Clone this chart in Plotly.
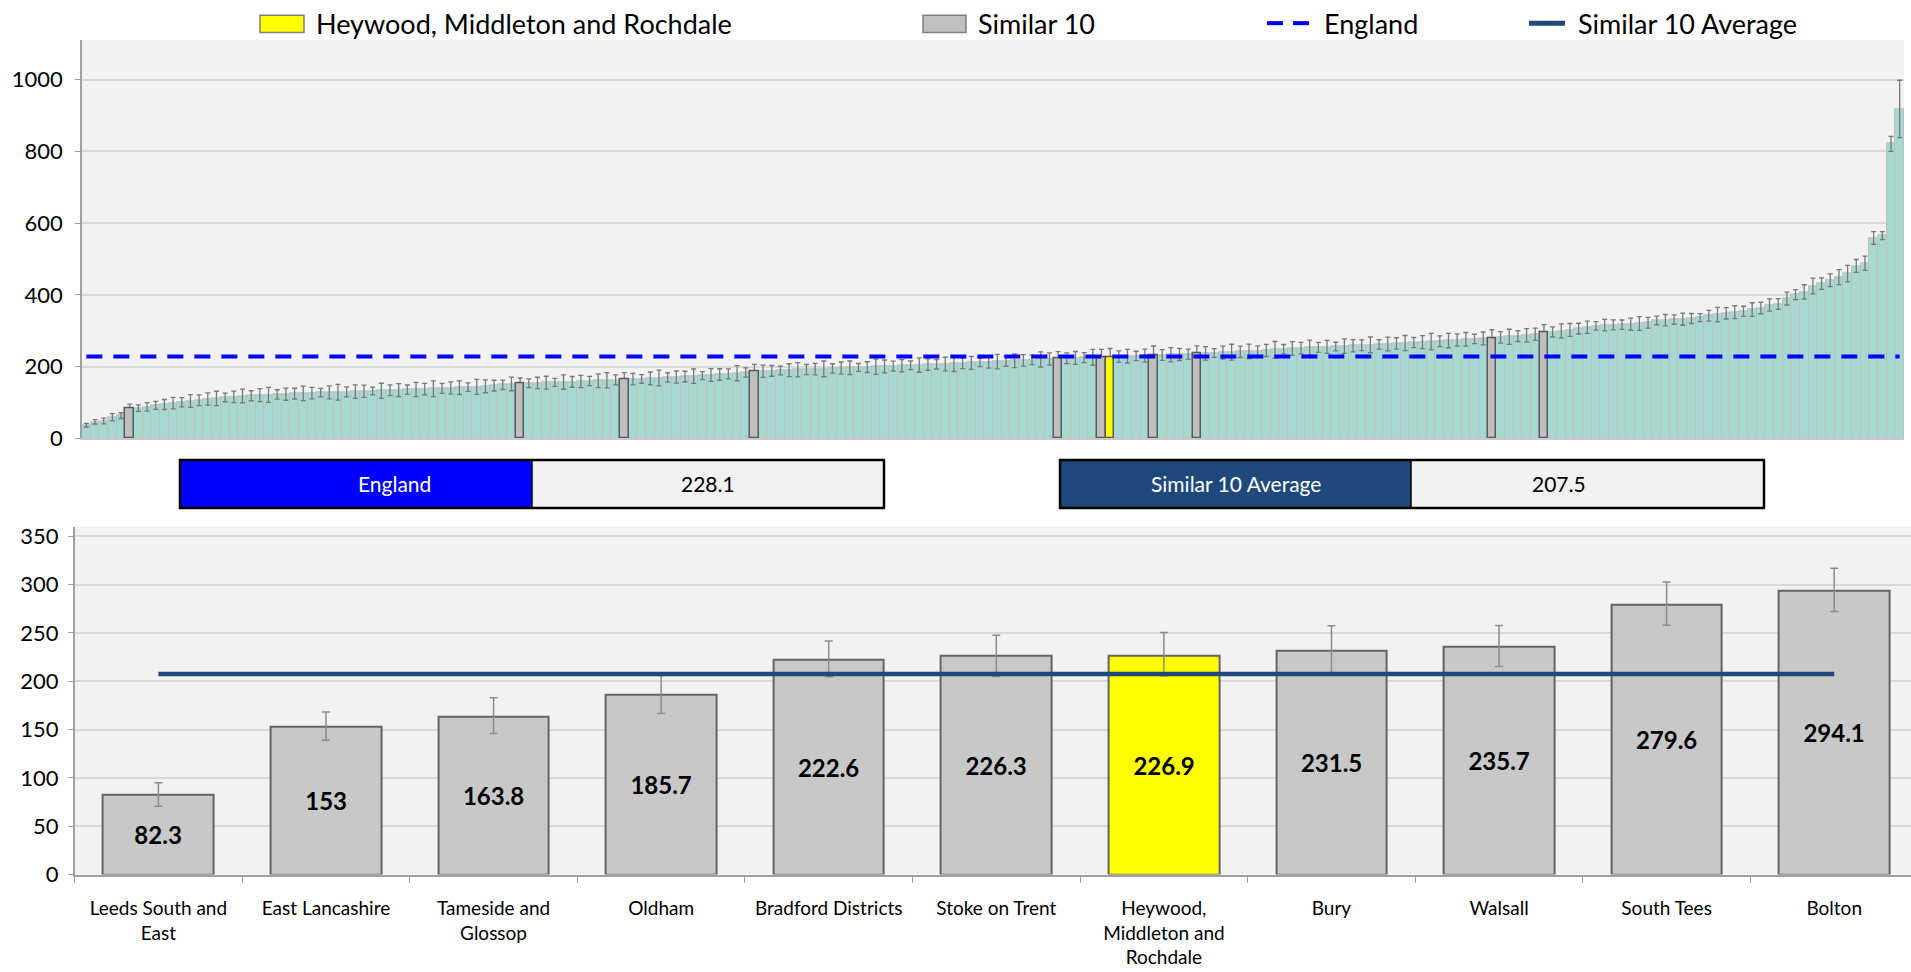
import plotly.graph_objects as go

# ---------------- DATA ----------------
england_value = 228.1
similar_avg_value = 207.5

# All CCG values, sorted ascending (top chart)
all_values = [
    36.4, 45.8, 48.1, 58.6, 63.2, 82.3, 83.9, 87.5, 91.7, 94.2,
    97.8, 100.6, 103.9, 106.1, 109.4, 111.2, 113.8, 115.5, 117.9, 118.6,
    120.3, 121.0, 122.4, 123.1, 124.5, 125.2, 125.9, 127.3, 128.0, 128.6,
    129.4, 130.1, 131.2, 131.8, 132.5, 133.7, 134.2, 135.6, 136.1, 137.4,
    138.2, 139.0, 140.3, 141.1, 142.6, 143.4, 145.0, 146.8, 149.1, 151.5,
    153.0, 153.4, 154.2, 155.0, 155.9, 156.7, 157.3, 158.4, 159.6, 160.5,
    161.7, 162.9, 163.8, 164.7, 165.5, 166.8, 168.0, 169.4, 170.6, 171.9,
    173.2, 174.8, 176.5, 177.9, 179.6, 181.4, 183.5, 185.7, 186.9, 188.0,
    189.1, 189.9, 191.0, 191.8, 192.9, 193.6, 194.8, 195.7, 196.5, 197.6,
    198.4, 199.5, 200.3, 201.4, 202.2, 203.5, 204.1, 205.3, 206.2, 207.0,
    208.3, 209.1, 210.4, 211.6, 212.5, 213.8, 214.9, 216.2, 217.5, 218.7,
    219.8, 221.3, 222.6, 223.4, 224.1, 224.9, 225.7, 226.3, 226.9, 227.8,
    228.9, 229.8, 230.6, 231.5, 232.4, 233.1, 234.0, 234.9, 235.7, 236.8,
    237.9, 239.0, 240.2, 241.3, 242.5, 243.8, 245.1, 246.9, 248.6, 250.4,
    251.5, 252.7, 253.6, 254.8, 255.9, 257.0, 258.2, 259.3, 260.5, 261.9,
    263.0, 264.4, 265.7, 267.1, 268.3, 269.6, 270.8, 272.5, 274.3, 276.0,
    277.2, 278.5, 279.6, 281.4, 283.1, 284.9, 287.0, 290.2, 294.1, 296.5,
    299.3, 302.1, 305.8, 309.7, 313.5, 315.4, 316.2, 316.9, 318.3, 320.1,
    322.4, 328.6, 329.3, 331.0, 332.2, 334.1, 336.5, 341.8, 344.9, 348.7,
    351.6, 354.2, 359.0, 363.4, 371.8, 374.5, 389.7, 400.9, 408.3, 424.6,
    431.2, 440.8, 449.5, 459.1, 480.7, 488.3, 558.6, 565.2, 821.4, 918.7,
]

# Half-width of the confidence interval for every CCG (top chart)
all_ci_half = [
    5, 6, 8, 10, 8, 12, 9, 12, 11, 14,
    16, 13, 18, 15, 17, 20, 12, 16, 19, 14,
    18, 21, 13, 17, 15, 20, 16, 12, 18, 22,
    14, 19, 17, 11, 21, 15, 18, 13, 20, 16,
    22, 14, 17, 19, 12, 21, 18, 15, 13, 19,
    14, 12, 16, 18, 11, 20, 15, 17, 13, 19,
    21, 14, 19, 16, 12, 18, 22, 13, 17, 15,
    20, 11, 18, 16, 14, 21, 13, 19, 17, 15,
    12, 18, 20, 14, 16, 22, 13, 17, 19, 11,
    15, 21, 18, 14, 17, 12, 20, 16, 13, 19,
    22, 15, 18, 12, 17, 20, 14, 19, 16, 13,
    21, 17, 19, 15, 18, 14, 22, 21, 23, 16,
    19, 13, 18, 25, 15, 20, 17, 14, 21, 19,
    12, 18, 22, 16, 20, 14, 17, 23, 13, 19,
    16, 21, 14, 18, 12, 20, 17, 15, 22, 13,
    19, 16, 21, 14, 18, 23, 15, 20, 17, 19,
    13, 18, 22, 16, 21, 15, 19, 17, 23, 14,
    20, 18, 15, 17, 12, 16, 14, 13, 17, 19,
    15, 12, 16, 13, 17, 14, 11, 15, 20, 16,
    18, 14, 19, 16, 17, 15, 18, 14, 20, 22,
    16, 18, 21, 23, 18, 20, 18, 11, 21, 80,
]

# Similar 10 (plus the selected CCG), bottom chart
similar_names = [
    "Leeds South and<br>East", "East Lancashire", "Tameside and<br>Glossop", "Oldham",
    "Bradford Districts", "Stoke on Trent", "Heywood,<br>Middleton and<br>Rochdale",
    "Bury", "Walsall", "South Tees", "Bolton",
]
similar_values = [82.3, 153, 163.8, 185.7, 222.6, 226.3, 226.9, 231.5, 235.7, 279.6, 294.1]
similar_lower = [70.6, 139.0, 146.0, 166.7, 204.8, 205.0, 205.7, 207.0, 215.4, 258.0, 272.3]
similar_upper = [95.1, 168.1, 183.0, 206.0, 241.8, 247.7, 250.4, 257.4, 257.7, 302.7, 316.9]
# rank position (1-based) of each of them among all CCGs
similar_rank = [6, 51, 63, 78, 113, 118, 119, 124, 129, 163, 169]
selected_name = "Heywood, Middleton and Rochdale"
selected_index = 6

# ---------------- LAYOUT HELPERS ----------------
W, H = 1911, 972
FONT = "Lato"


def px(x):
    return x / W


def py(y):
    return 1 - y / H


ranks = list(range(1, len(all_values) + 1))
err_plus = list(all_ci_half)
err_minus = list(all_ci_half)
for k, r in enumerate(similar_rank):
    err_plus[r - 1] = similar_upper[k] - similar_values[k]
    err_minus[r - 1] = similar_values[k] - similar_lower[k]

TEAL = "rgb(166,216,212)"
GREY_BAR = "rgb(191,191,191)"
DARK_EDGE = "rgb(89,89,89)"
NAVY = "rgb(31,73,125)"

fig = go.Figure()

# ---- top chart: all CCGs ----
fig.add_trace(go.Bar(
    x=ranks, y=all_values, xaxis="x", yaxis="y", width=1,
    marker=dict(color=TEAL, line=dict(color="rgb(190,190,190)", width=1)),
    error_y=dict(type="data", array=err_plus, arrayminus=err_minus,
                 color="rgb(120,120,120)", thickness=1.3, width=2.5),
    showlegend=False, hoverinfo="x+y",
))
sim_only_r = [r for k, r in enumerate(similar_rank) if k != selected_index]
sim_only_v = [v for k, v in enumerate(similar_values) if k != selected_index]
fig.add_trace(go.Bar(
    x=sim_only_r, y=sim_only_v, xaxis="x", yaxis="y", width=1,
    marker=dict(color=GREY_BAR, line=dict(color=DARK_EDGE, width=1.5)),
    showlegend=False,
))
fig.add_trace(go.Bar(
    x=[similar_rank[selected_index]], y=[similar_values[selected_index]], xaxis="x", yaxis="y",
    width=1,
    marker=dict(color="#ffff00", line=dict(color=DARK_EDGE, width=1.5)),
    showlegend=False,
))
fig.add_trace(go.Scatter(
    x=ranks, y=[england_value] * len(ranks), xaxis="x", yaxis="y",
    mode="lines", line=dict(color="#0000ff", width=4, dash="16px,11px"),
    showlegend=False, hoverinfo="skip",
))

# ---- bottom chart: similar 10 ----
bar_colors = ["#ffff00" if k == selected_index else "rgb(200,200,200)" for k in range(len(similar_values))]
fig.add_trace(go.Bar(
    x=similar_names, y=similar_values, xaxis="x2", yaxis="y2",
    marker=dict(color=bar_colors, line=dict(color="rgb(100,100,100)", width=2)),
    width=0.66,
    text=[f"{v:g}" for v in similar_values], textposition="inside",
    insidetextanchor="middle", textangle=0,
    textfont=dict(family=FONT, size=24, color="black", weight="bold"),
    error_y=dict(type="data",
                 array=[u - v for u, v in zip(similar_upper, similar_values)],
                 arrayminus=[v - l for v, l in zip(similar_values, similar_lower)],
                 color="rgb(140,140,140)", thickness=1.5, width=4),
    showlegend=False,
))
fig.add_trace(go.Scatter(
    x=similar_names, y=[similar_avg_value] * len(similar_names), xaxis="x2", yaxis="y2",
    mode="lines", line=dict(color=NAVY, width=4.5),
    showlegend=False, hoverinfo="skip",
))

tickfont = dict(family=FONT, size=19, color="black")
ytickfont = dict(family=FONT, size=22, color="black")

fig.update_layout(
    width=W, height=H,
    margin=dict(l=0, r=0, t=0, b=0),
    paper_bgcolor="white", plot_bgcolor="#f2f2f2",
    barmode="overlay", bargap=0,
    font=dict(family=FONT, color="black"),
    xaxis=dict(domain=[px(82), px(1904)], range=[0.5, len(ranks) + 0.5],
               showticklabels=False, showgrid=False, zeroline=False,
               showline=True, linecolor="rgb(200,200,200)", linewidth=1.5, ticks=""),
    yaxis=dict(domain=[py(442), py(37)], range=[0, 1110], tickvals=[0, 200, 400, 600, 800, 1000],
               showgrid=True, gridcolor="rgb(217,217,217)", gridwidth=1.5, zeroline=False,
               showline=True, linecolor="rgb(160,160,160)", linewidth=1.5,
               ticks="outside", ticklen=5, tickcolor="rgb(160,160,160)",
               ticklabelstandoff=8,
               tickfont=ytickfont, anchor="x"),
    xaxis2=dict(domain=[px(74.6), 1.0], range=[-0.5, 10.5 - 7 / 167.6], type="category",
                showgrid=False, zeroline=False, showline=True,
                linecolor="rgb(160,160,160)", linewidth=1.5,
                ticks="outside", tickson="boundaries", ticklen=7, tickcolor="rgb(160,160,160)",
                ticklabelstandoff=16,
                tickfont=tickfont, anchor="y2"),
    yaxis2=dict(domain=[py(886), py(532)], range=[0, 360], tickvals=list(range(0, 351, 50)),
                showgrid=True, gridcolor="rgb(217,217,217)", gridwidth=1.5, zeroline=False,
                showline=True, linecolor="rgb(160,160,160)", linewidth=1.5,
                ticks="outside", ticklen=5, tickcolor="rgb(160,160,160)",
                ticklabelstandoff=5,
                tickfont=ytickfont, anchor="x2"),
)

shapes = []
annotations = []

# ---- manual legend ----
LEG_Y = 19.5
shapes.append(dict(type="rect", xref="paper", yref="paper", x0=px(260), x1=px(304),
                   y0=py(29), y1=py(11.5), fillcolor="#ffff00",
                   line=dict(color="rgb(127,127,127)", width=1.5)))
annotations.append(dict(text=selected_name, x=px(314), y=py(LEG_Y), xref="paper", yref="paper",
                        xanchor="left", yanchor="middle", showarrow=False,
                        font=dict(family=FONT, size=27, color="black")))
shapes.append(dict(type="rect", xref="paper", yref="paper", x0=px(923), x1=px(966),
                   y0=py(29), y1=py(11.5), fillcolor=GREY_BAR,
                   line=dict(color="rgb(127,127,127)", width=1.5)))
annotations.append(dict(text="Similar 10", x=px(976), y=py(LEG_Y), xref="paper", yref="paper",
                        xanchor="left", yanchor="middle", showarrow=False,
                        font=dict(family=FONT, size=27, color="black")))
for a, b in [(1267, 1283), (1293, 1309)]:
    shapes.append(dict(type="line", xref="paper", yref="paper", x0=px(a), x1=px(b),
                       y0=py(LEG_Y), y1=py(LEG_Y), line=dict(color="#0000ff", width=4)))
annotations.append(dict(text="England", x=px(1322), y=py(LEG_Y), xref="paper", yref="paper",
                        xanchor="left", yanchor="middle", showarrow=False,
                        font=dict(family=FONT, size=27, color="black")))
shapes.append(dict(type="line", xref="paper", yref="paper", x0=px(1529), x1=px(1565),
                   y0=py(LEG_Y), y1=py(LEG_Y), line=dict(color=NAVY, width=5)))
annotations.append(dict(text="Similar 10 Average", x=px(1576), y=py(LEG_Y), xref="paper", yref="paper",
                        xanchor="left", yanchor="middle", showarrow=False,
                        font=dict(family=FONT, size=27, color="black")))

# ---- value boxes ----
def value_box(x0, xm, x1, label, value, fill):
    y0, y1 = 464, 513
    shapes.append(dict(type="rect", xref="paper", yref="paper", x0=px(x0), x1=px(xm),
                       y0=py(y1), y1=py(y0), fillcolor=fill, line=dict(width=0)))
    shapes.append(dict(type="rect", xref="paper", yref="paper", x0=px(xm), x1=px(x1),
                       y0=py(y1), y1=py(y0), fillcolor="#f2f2f2", line=dict(width=0)))
    shapes.append(dict(type="rect", xref="paper", yref="paper", x0=px(x0), x1=px(x1),
                       y0=py(y1), y1=py(y0), fillcolor="rgba(0,0,0,0)",
                       line=dict(color="black", width=2.5)))
    shapes.append(dict(type="line", xref="paper", yref="paper", x0=px(xm), x1=px(xm),
                       y0=py(y1), y1=py(y0), line=dict(color="black", width=1.5)))
    annotations.append(dict(text=label, x=px((x0 + xm) / 2), y=py((y0 + y1) / 2),
                            xref="paper", yref="paper", showarrow=False,
                            font=dict(family=FONT, size=21, color="white")))
    annotations.append(dict(text=f"{value}", x=px((xm + x1) / 2), y=py((y0 + y1) / 2),
                            xref="paper", yref="paper", showarrow=False,
                            font=dict(family=FONT, size=21, color="black")))


value_box(180, 532, 884, "England", england_value, "#0000ff")
value_box(1060, 1411, 1764, "Similar 10 Average", similar_avg_value, NAVY)

fig.update_layout(shapes=shapes, annotations=annotations)

fig.write_html("out.html", config={"displayModeBar": False},
               post_script="document.body.style.margin='0';document.body.style.overflow='hidden';")
